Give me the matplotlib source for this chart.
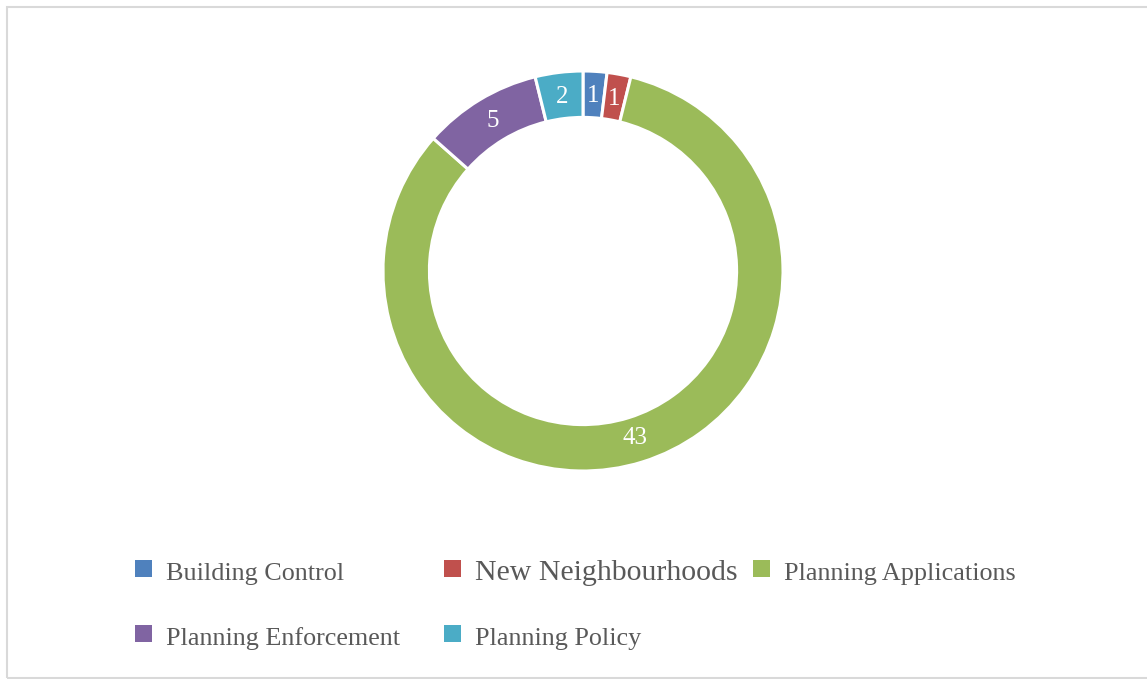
import matplotlib
matplotlib.use('Agg')
import matplotlib.pyplot as plt
from matplotlib.patches import Rectangle

# complaints by service area
categories = ['Building Control', 'New Neighbourhoods', 'Planning Applications',
              'Planning Enforcement', 'Planning Policy']
counts = [1, 1, 43, 5, 2]
colors = ['#4F81BD', '#C0504D', '#9BBB59', '#8064A2', '#4BACC6']

W, H = 1147, 679
fig = plt.figure(figsize=(W / 100, H / 100), dpi=100)
fig.patch.set_facecolor('white')

# chart border
fig.add_artist(Rectangle((7 / W, 1 - 678 / H), (W + 5 - 7) / W, (678 - 7) / H,
                         transform=fig.transFigure, fill=False,
                         edgecolor='#d9d9d9', linewidth=1.5))

# donut, centre at (583, 271) px, outer radius 200 px
cx, cy, R = 583, 271, 200
half = 1.05 * R
ax = fig.add_axes([(cx - half) / W, (H - cy - half) / H, 2 * half / W, 2 * half / H])
wedges, texts = ax.pie(counts, colors=colors, startangle=90, counterclock=False,
                       radius=1.0, labels=[str(c) for c in counts], labeldistance=0.875,
                       wedgeprops=dict(width=0.232, edgecolor='white', linewidth=2.2),
                       textprops=dict(color='white', fontsize=18, family='Liberation Serif',
                                      ha='center', va='center'))
ax.set_xlim(-1.05, 1.05)
ax.set_ylim(-1.05, 1.05)
ax.set_aspect('equal')
ax.axis('off')

# legend laid out in two rows like the original
mark_x = [135, 444, 753, 135, 444]
row_y = [568, 568, 568, 633, 633]
sizes = [18.8, 21.5, 18.8, 18.8, 18.8]
for cat, col, mx, my, fs in zip(categories, colors, mark_x, row_y, sizes):
    s = 17
    fig.add_artist(Rectangle((mx / W, 1 - (my + s / 2) / H), s / W, s / H,
                             transform=fig.transFigure, facecolor=col, edgecolor='none'))
    fig.text((mx + 31) / W, 1 - (my + 12) / H, cat, fontsize=fs,
             family='Liberation Serif', color='#595959', va='baseline', ha='left')

fig.savefig('out.png', dpi=100)
